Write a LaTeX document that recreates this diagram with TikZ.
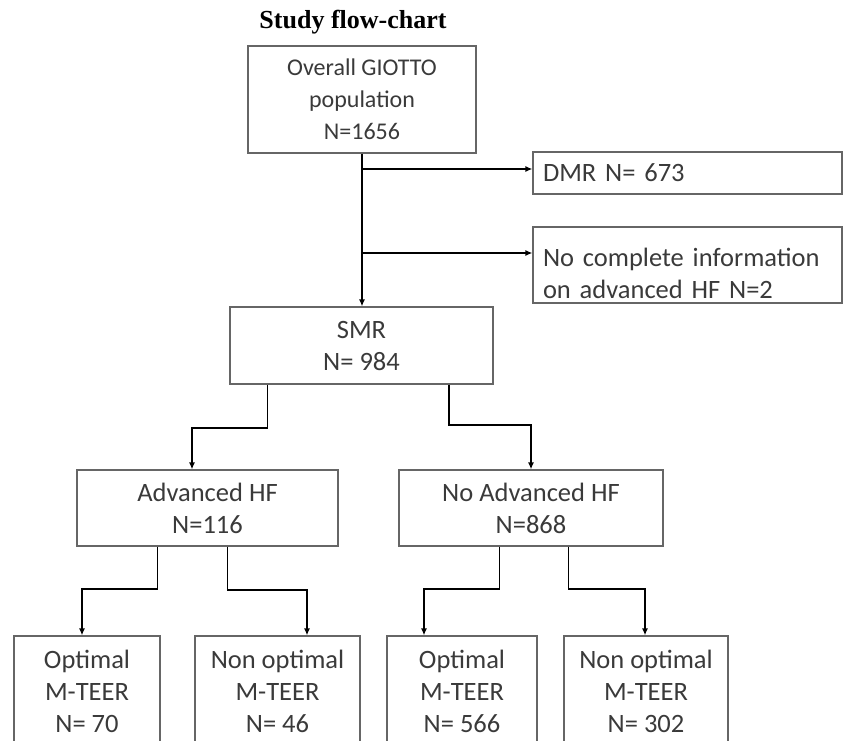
\documentclass[tikz,border=0pt]{standalone}
\usepackage{fontspec}
\setmainfont{Carlito}
\newfontfamily\titlefont{Liberation Serif}
\usetikzlibrary{arrows.meta}
\definecolor{boxline}{HTML}{666666}
\definecolor{boxtext}{HTML}{3A3A3A}
\tikzset{
  box/.style={draw=boxline, line width=1.2pt, text=boxtext, inner sep=0pt,
    align=center, font=\fontsize{26.5}{32}\selectfont},
  sidebox/.style={box, align=left, minimum width=309pt, text width=289pt},
  arr/.style={line width=1.8pt, -{Latex[length=7pt,width=6pt]}}
}
\begin{document}
\begin{tikzpicture}[x=1pt, y=-1pt]
  \useasboundingbox (0,0) rectangle (843,741);
  \node[font=\titlefont\bfseries\fontsize{26}{30}\selectfont, anchor=base] (title) at (353,28.3) {Study flow-chart};
  \draw
    (362,99.5) node[box, minimum width=228pt, minimum height=107pt, font=\fontsize{24}{32}\selectfont] (overall) {Overall GIOTTO\\population\\N=1656}
    (687.5,173) node[sidebox, minimum height=42pt] (dmr) {DMR N= 673}
    (687.5,265) node[sidebox, minimum height=76pt] (nci) {\rule{0pt}{36pt}No complete information\\on advanced HF N=2}
    (361.5,345.5) node[box, minimum width=263pt, minimum height=77pt] (smr) {SMR\\N= 984}
    (207.5,508) node[box, minimum width=261pt, minimum height=76pt] (adv) {Advanced HF\\N=116}
    (531,508) node[box, minimum width=264pt, minimum height=76pt] (noadv) {No Advanced HF\\N=868}
    (87,691) node[box, minimum width=146pt, minimum height=110pt] (opt1) {Optimal\\M-TEER\\N= 70}
    (277.5,691) node[box, minimum width=165pt, minimum height=110pt] (nonopt1) {Non optimal\\M-TEER\\N= 46}
    (462,691) node[box, minimum width=150pt, minimum height=110pt] (opt2) {Optimal\\M-TEER\\N= 566}
    (646,691) node[box, minimum width=164pt, minimum height=110pt] (nonopt2) {Non optimal\\M-TEER\\N= 302};
  \coordinate (dmrin) at ([yshift=4pt]dmr.west);
  \coordinate (nciin) at ([yshift=12pt]nci.west);
  \begin{scope}[arr]
    \draw (overall.south) to (overall.south |- smr.north);
    \draw (overall.south |- dmrin) to (dmrin);
    \draw (overall.south |- nciin) to (nciin);
    \draw ([xshift=38pt]smr.south west) -- ++(0,43) -| ([xshift=-15.5pt]adv.north);
    \draw ([xshift=-45pt]smr.south east) -- ++(0,40) -| (noadv.north);
    \draw ([xshift=81pt]adv.south west) -- ++(0,42) -| ([xshift=-5pt]opt1.north);
    \draw ([xshift=151pt]adv.south west) -- ++(0,43) -| ([xshift=29.5pt]nonopt1.north);
    \draw ([xshift=101pt]noadv.south west) -- ++(0,42) -| ([xshift=-38pt]opt2.north);
    \draw ([xshift=170pt]noadv.south west) -- ++(0,42) -| ([xshift=-1pt]nonopt2.north);
  \end{scope}
\end{tikzpicture}
\end{document}
